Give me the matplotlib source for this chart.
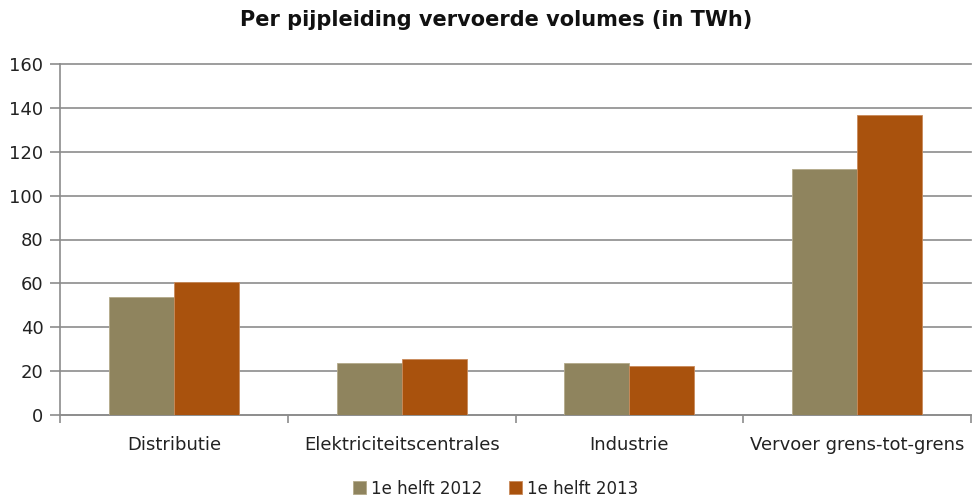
import matplotlib
matplotlib.use("Agg")
import matplotlib.pyplot as plt
import numpy as np

categories = ["Distributie", "Elektriciteitscentrales", "Industrie", "Vervoer grens-tot-grens"]
series_names = ["1e helft 2012", "1e helft 2013"]
values_2012 = [53.8, 23.7, 23.7, 112.2]
values_2013 = [60.7, 25.5, 22.4, 136.8]
yticks = [0, 20, 40, 60, 80, 100, 120, 140, 160]

plt.rcParams['font.family'] = ['DejaVu Sans']

fig = plt.figure(figsize=(9.72, 5.0), dpi=100)
ax = fig.add_axes([60/972, 85/500, 911/972, 351/500])

x = np.arange(len(categories))
w = 0.285
c1 = "#8F845E"
c2 = "#A9520D"
ax.bar(x - w/2, values_2012, width=w, color=c1, edgecolor="#b3aa8a", linewidth=0.6, label=series_names[0], zorder=3)
ax.bar(x + w/2, values_2013, width=w, color=c2, edgecolor="#c98a5a", linewidth=0.6, label=series_names[1], zorder=3)

ax.set_xlim(-0.5, len(categories) - 0.5)
ax.set_ylim(0, 160)
ax.set_yticks(yticks)
ax.set_yticklabels([str(v) for v in yticks], fontsize=13, color="#222222")
ax.yaxis.grid(True, color="#8c8c8c", linewidth=1.2, zorder=0)
ax.set_axisbelow(True)
for gl in ax.get_ygridlines():
    gl.set_clip_on(False)

ax.set_xticks(np.arange(-0.5, len(categories), 1.0))
ax.set_xticklabels([])
ax.set_xticks(x, minor=True)
ax.set_xticklabels(categories, minor=True, fontsize=13, color="#222222")
ax.tick_params(axis='x', which='minor', length=0, pad=15)
ax.tick_params(axis='x', which='major', length=6, color="#8c8c8c", width=1.2)
ax.tick_params(axis='y', length=7, color="#8c8c8c", width=1.2, pad=5)

for s in ["top", "right"]:
    ax.spines[s].set_visible(False)
for s in ["left", "bottom"]:
    ax.spines[s].set_color("#8c8c8c")
    ax.spines[s].set_linewidth(1.2)

fig.suptitle("Per pijpleiding vervoerde volumes (in TWh)", x=0.51, y=0.98, fontsize=15, fontweight="bold", color="#111111")

leg = fig.legend(loc="lower center", bbox_to_anchor=(0.51, -0.025), ncol=2, frameon=False,
                 fontsize=12, handlelength=0.8, handleheight=0.8, handletextpad=0.3, columnspacing=1.6)
for t in leg.get_texts():
    t.set_color("#222222")

fig.savefig("out.png", dpi=100)
